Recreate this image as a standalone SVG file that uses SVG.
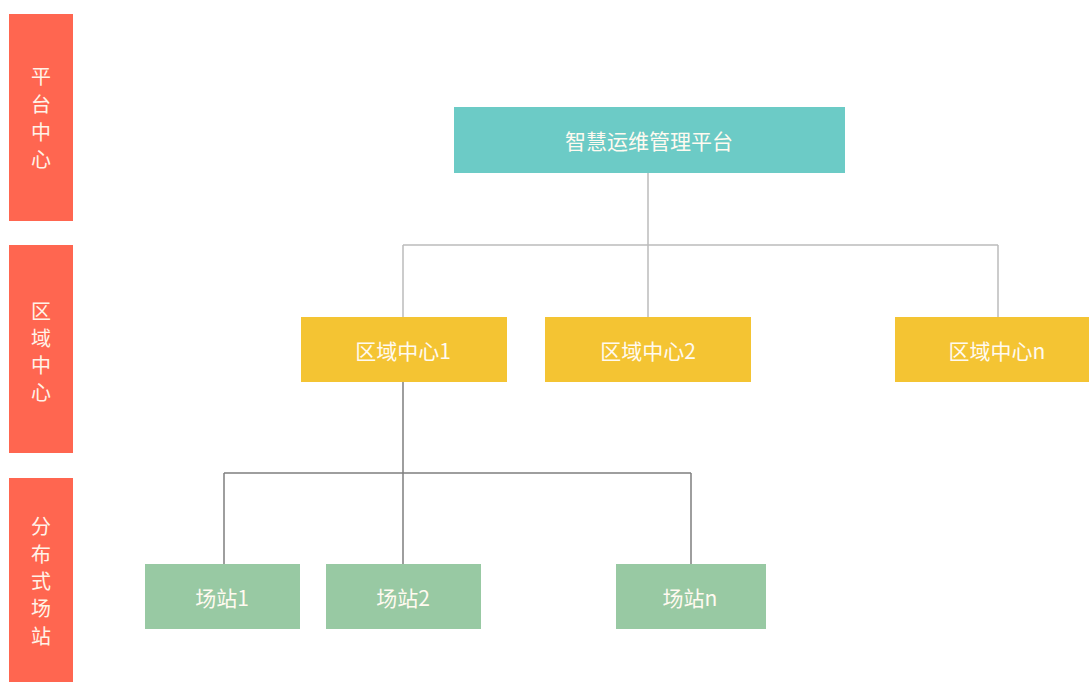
<svg xmlns="http://www.w3.org/2000/svg" width="1089" height="682" viewBox="0 0 1089 682">
<style>
.t{font-family:"Noto Sans CJK SC","Noto Sans",sans-serif;font-size:21px;fill:#fffaf0;text-anchor:middle;dominant-baseline:central}
.v{font-family:"Noto Sans CJK SC",sans-serif;font-size:20px;fill:#fff3e8;text-anchor:middle;dominant-baseline:central}
.bar{fill:#ff6650}
.top{fill:#6ccbc6}
.reg{fill:#f4c433}
.st{fill:#98c9a3}
.c1{stroke:#bcbcbc;stroke-width:1.5;fill:none}
.c2{stroke:#7f7f7f;stroke-width:1.5;fill:none}
</style>
<rect width="1089" height="682" fill="#ffffff"/>
<g id="layer-platform">
<rect class="bar" x="9" y="14" width="64" height="207"/>
<text class="v" x="41" y="75">平</text><text class="v" x="41" y="103">台</text><text class="v" x="41" y="131">中</text><text class="v" x="41" y="158">心</text>
</g>
<g id="layer-region">
<rect class="bar" x="9" y="245" width="64" height="208"/>
<text class="v" x="41" y="310">区</text><text class="v" x="41" y="337">域</text><text class="v" x="41" y="364">中</text><text class="v" x="41" y="391">心</text>
</g>
<g id="layer-station">
<rect class="bar" x="9" y="478" width="64" height="204"/>
<text class="v" x="41" y="525">分</text><text class="v" x="41" y="553">布</text><text class="v" x="41" y="580">式</text><text class="v" x="41" y="607">场</text><text class="v" x="41" y="635">站</text>
</g>
<g id="connectors">
<path class="c1" d="M648 173V245M403 245H998M403 245V317M648 245V317M998 245V317"/>
<path class="c2" d="M403 382V473M224 473H691M224 473V564M403 473V564M691 473V564"/>
</g>
<g id="platform"><rect class="top" x="454" y="107" width="391" height="66"/><text class="t" x="649" y="140">智慧运维管理平台</text></g>
<g id="region1"><rect class="reg" x="301" y="317" width="206" height="65"/><text class="t" x="403" y="350">区域中心1</text></g>
<g id="region2"><rect class="reg" x="545" y="317" width="206" height="65"/><text class="t" x="648" y="350">区域中心2</text></g>
<g id="regionn"><rect class="reg" x="895" y="317" width="194" height="65"/><text class="t" x="997" y="350">区域中心n</text></g>
<g id="station1"><rect class="st" x="145" y="564" width="155" height="65"/><text class="t" x="222" y="597">场站1</text></g>
<g id="station2"><rect class="st" x="326" y="564" width="155" height="65"/><text class="t" x="403" y="597">场站2</text></g>
<g id="stationn"><rect class="st" x="616" y="564" width="150" height="65"/><text class="t" x="690" y="597">场站n</text></g>
</svg>
